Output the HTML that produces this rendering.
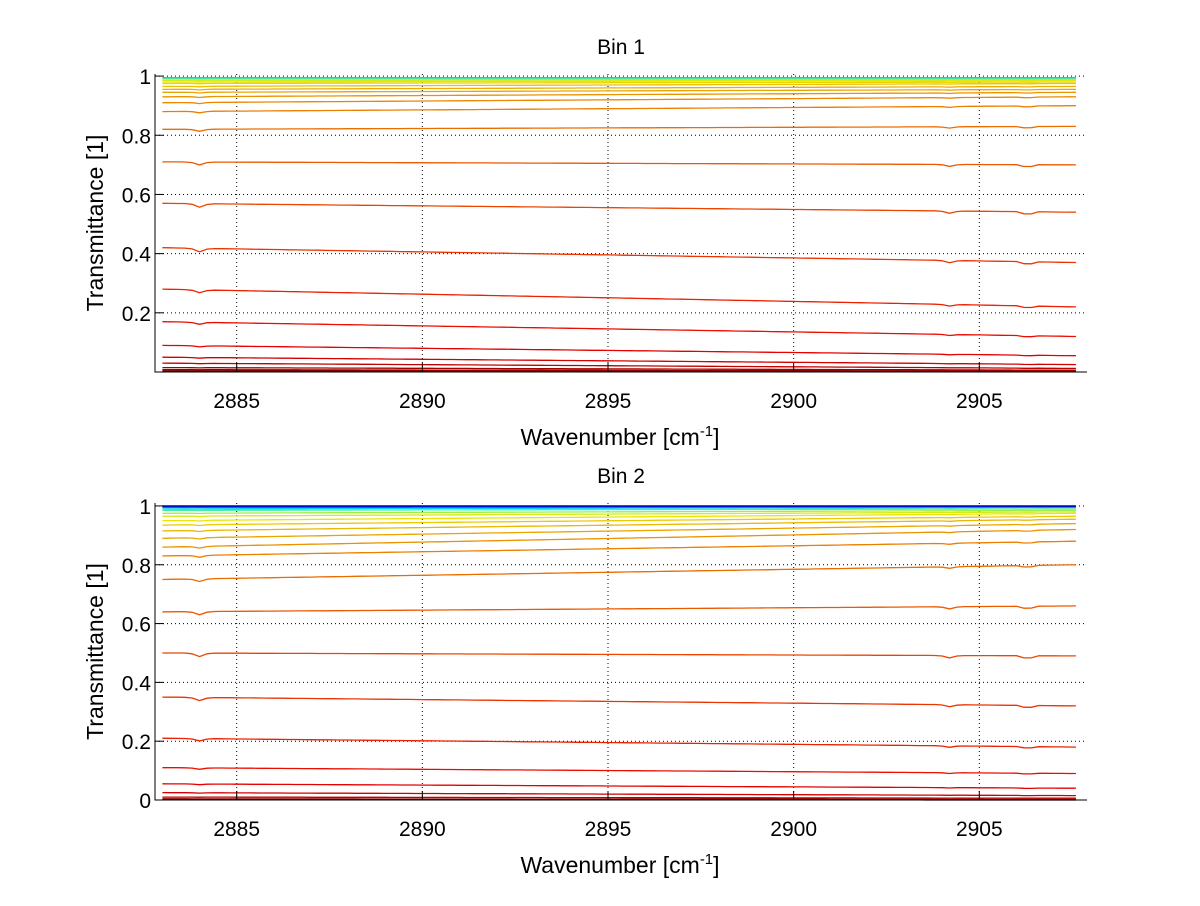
<!DOCTYPE html>
<html><head><meta charset="utf-8"><style>
body{margin:0;background:#fff}
svg text{font-family:"Liberation Sans",sans-serif;fill:#000}
</style></head><body>
<svg id="c" width="1200" height="901" xmlns="http://www.w3.org/2000/svg"></svg>
<script>
const xTicks=[2885,2890,2895,2900,2905];
const y1Ticks=[0.2,0.4,0.6,0.8,1];
const y2Ticks=[0,0.2,0.4,0.6,0.8,1];
const dipWn=[2884.0,2904.2,2906.3];
const dipDepth=[0.012,0.008,0.012];
const bin1Start=[0.995,0.993,0.99,0.985,0.98,0.975,0.965,0.955,0.945,0.93,0.91,0.88,0.82,0.71,0.57,0.42,0.28,0.17,0.09,0.05,0.03,0.015,0.008,0.004];
const bin1End=[0.995,0.993,0.99,0.988,0.985,0.98,0.975,0.965,0.955,0.945,0.93,0.90,0.83,0.70,0.54,0.37,0.22,0.12,0.055,0.025,0.012,0.006,0.003,0.001];
const bin1Col=[0.35,0.45,0.55,0.6,0.63,0.65,0.67,0.69,0.7,0.72,0.73,0.74,0.76,0.78,0.8,0.82,0.84,0.86,0.88,0.9,0.92,0.95,0.97,1.0];
const bin2Start=[1.0,0.998,0.995,0.99,0.985,0.975,0.965,0.95,0.935,0.915,0.89,0.86,0.83,0.75,0.64,0.50,0.35,0.21,0.11,0.055,0.025,0.01,0.004,0.001];
const bin2End=[1.0,0.998,0.997,0.995,0.99,0.985,0.98,0.975,0.965,0.955,0.94,0.92,0.88,0.80,0.66,0.49,0.32,0.18,0.09,0.04,0.015,0.006,0.002,0.0];
const bin2Col=[0.05,0.15,0.25,0.35,0.45,0.55,0.6,0.63,0.66,0.68,0.70,0.72,0.74,0.76,0.78,0.8,0.82,0.84,0.86,0.88,0.9,0.93,0.96,1.0];
const NS="http://www.w3.org/2000/svg";
const svg=document.getElementById('c');
function mk(t,a,p){const e=document.createElementNS(NS,t);for(const k in a)e.setAttribute(k,a[k]);(p||svg).appendChild(e);return e;}
function jet(t){const c=v=>Math.round(235*Math.max(0,Math.min(1,1.5-Math.abs(v))));return `rgb(${c(4*t-3)},${c(4*t-2)},${c(4*t-1)})`;}
function panel(o){
  const g=mk('g',{});
  
  
  const X=w=>o.L+(w-o.x0)/(o.x1-o.x0)*(o.R-o.L);
  const Y=v=>o.B-(v-o.y0)/(o.y1-o.y0)*(o.B-o.T);
  xTicks.forEach(w=>{const l=mk('line',{x1:X(w),x2:X(w),y1:o.T,y2:o.B,stroke:'#000','stroke-width':1,'stroke-dasharray':'1,3'},g);});
  o.yt.forEach(v=>{const l=mk('line',{x1:o.L,x2:o.R,y1:Y(v),y2:Y(v),stroke:'#000','stroke-width':1,'stroke-dasharray':'1,3'},g);});
  const ws=[];for(let w=2883.0;w<=2907.61;w+=0.2)ws.push(w);
  for(let i=o.s.length-1;i>=0;i--){
    const pts=ws.map(w=>{const f=(w-2883)/(2907.6-2883);let v=o.s[i]+(o.e[i]-o.s[i])*f;
      dipWn.forEach((d,k)=>{if(Math.abs(w-d)<0.25)v-=dipDepth[k]*v*(1-v)*4*(1-Math.abs(w-d)/0.25);});
      return X(w).toFixed(1)+','+Y(v).toFixed(1);});
    const p=mk('polyline',{points:pts.join(' '),fill:'none',stroke:jet(o.c[i]),'stroke-width':1.3},g);
    
    
  }
  const ax=mk('path',{d:`M${o.L},${o.T}V${o.B}H${o.R}`,stroke:'#000','stroke-width':1,fill:'none'},g);
  
  xTicks.forEach(w=>{mk('line',{x1:X(w),x2:X(w),y1:o.B,y2:o.B-9,stroke:'#000'},g);
    const t=mk('text',{x:X(w),y:o.B+36,'text-anchor':'middle','font-size':21},g);t.textContent=w;
    });
  o.yt.forEach(v=>{mk('line',{x1:o.L,x2:o.L+9,y1:Y(v),y2:Y(v),stroke:'#000'},g);
    const t=mk('text',{x:o.L-4,y:Y(v)+8,'text-anchor':'end','font-size':21},g);t.textContent=String(v);
    });
  const ti=mk('text',{x:(o.L+o.R)/2,y:o.T-20,'text-anchor':'middle','font-size':21},g);ti.textContent=o.title;
  
  const yl=mk('text',{x:0,y:0,transform:`translate(103,${(o.T+o.B)/2}) rotate(-90)`,'text-anchor':'middle','font-size':23},g);yl.textContent='Transmittance [1]';
  
  const xl=mk('text',{x:620,y:o.B+73,'text-anchor':'middle','font-size':23},g);
  xl.innerHTML='Wavenumber [cm<tspan dy="-9" font-size="15">-1</tspan><tspan dy="9">]</tspan>';
  
}
panel({name:'bin1-panel',title:'Bin 1',L:155,R:1087,T:74,B:372,x0:2882.8,x1:2907.9,y0:0,y1:1.007,yt:y1Ticks,s:bin1Start,e:bin1End,c:bin1Col});
panel({name:'bin2-panel',title:'Bin 2',L:155,R:1087,T:503,B:800,x0:2882.8,x1:2907.9,y0:0,y1:1.01,yt:y2Ticks,s:bin2Start,e:bin2End,c:bin2Col});
</script>
</body></html>
